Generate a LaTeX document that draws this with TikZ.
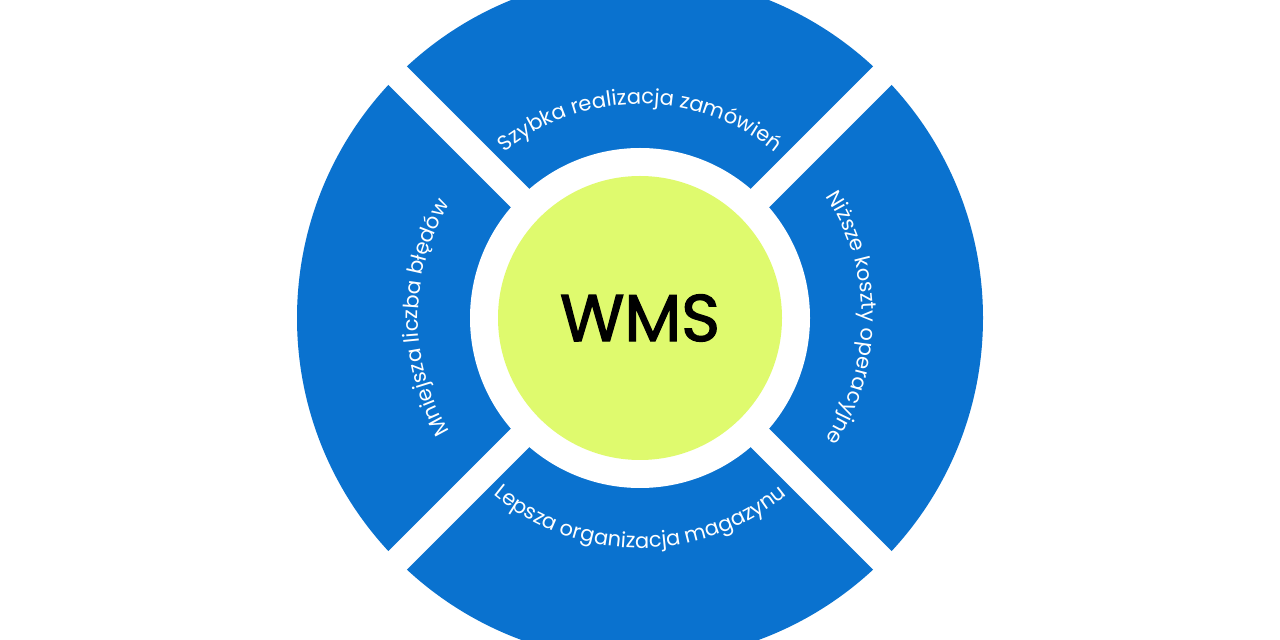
\documentclass[tikz,border=0pt]{standalone}
\usepackage{fontspec}
\setmainfont{Poppins}
\newfontfamily\wmsfont[FakeBold=2]{Poppins}
\usetikzlibrary{decorations.text}
\definecolor{wblue}{HTML}{0A72CF}
\definecolor{wgreen}{HTML}{DFFA6E}
\begin{document}
\begin{tikzpicture}[x=1pt,y=1pt,
  lbl/.style={decorate,decoration={text along path,text align=center,text color=white,text={#1}}}]
\useasboundingbox (0,0) rectangle (1280,640);
\clip (0,0) rectangle (1280,640);
\fill[white] (0,0) rectangle (1280,640);
\coordinate (c) at (640,322);
\fill[wblue] (c) circle (343);
\fill[white] (c) circle (170);
\draw[white,line width=26] (c) ++(45:150) -- ++(45:220);
\draw[white,line width=26] (c) ++(135:150) -- ++(135:220);
\draw[white,line width=26] (c) ++(225:150) -- ++(225:220);
\draw[white,line width=26] (c) ++(315:150) -- ++(315:220);
\node[circle,fill=wgreen,minimum size=284,inner sep=0] (hub) at (c) {};
\node[font=\wmsfont\fontsize{66}{72}\selectfont] (wms) at (c) {WMS};
\path[lbl={|\fontsize{21}{24}\selectfont|Szybka realizacja zamówień}] (c) ++(135:214) arc (135:45:214);
\path[lbl={|\fontsize{21}{24}\selectfont|Mniejsza liczba błędów}] (c) ++(225:222) arc (225:135:222);
\path[lbl={|\fontsize{21}{24}\selectfont|Niższe koszty operacyjne}] (c) ++(45:222) arc (45:-45:222);
\path[lbl={|\fontsize{21}{24}\selectfont|Lepsza organizacja magazynu}] (c) ++(225:230) arc (225:315:230);
\end{tikzpicture}
\end{document}
